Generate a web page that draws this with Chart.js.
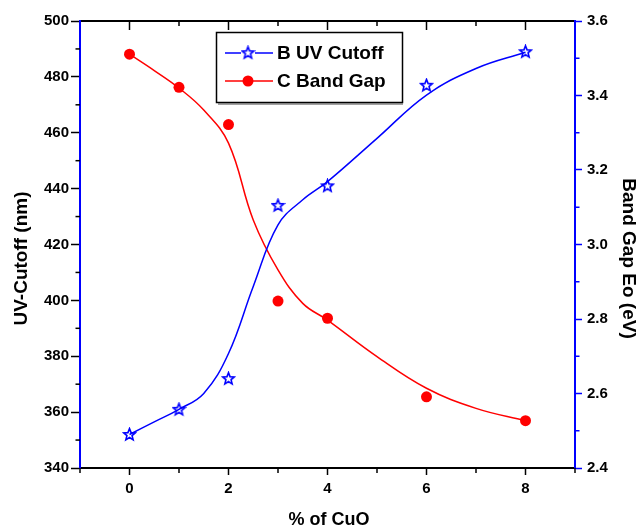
<!DOCTYPE html>
<html><head><meta charset="utf-8">
<script src="https://cdn.jsdelivr.net/npm/chart.js@4/dist/chart.umd.min.js"></script>
<style>html,body{margin:0;padding:0;background:#fff;} canvas{display:block;}</style>
</head><body>
<canvas id="c" width="637" height="531"></canvas>
<script>
// measured points
const cuoPercent = [0, 1, 2, 3, 4, 6, 8];
const uvCutoff = [352, 361, 372, 434, 441, 477, 489];
const bandGap = [3.511, 3.422, 3.322, 2.848, 2.802, 2.591, 2.527];
// fitted curves, values
const curveX = [0, 0.5, 1, 1.5, 2, 2.5, 3, 3.5, 4, 5, 6, 7, 8];
const uvCurve = [352, 356.5, 361, 366.7, 381, 405, 427, 436, 442.5, 458, 473.5, 483, 488.8];
const gapCurve = [3.511, 3.467, 3.42, 3.361, 3.272, 3.066, 2.932, 2.842, 2.797, 2.699, 2.614, 2.56, 2.527];
// ticks
const xTicks = [0, 2, 4, 6, 8];
const xMinorTicks = [-1, 1, 3, 5, 7, 9];
const uvTicks = [340, 360, 380, 400, 420, 440, 460, 480, 500];
const uvMinorTicks = [350, 370, 390, 410, 430, 450, 470, 490];
const gapTicks = [2.4, 2.6, 2.8, 3.0, 3.2, 3.4, 3.6];
const gapMinorTicks = [2.5, 2.7, 2.9, 3.1, 3.3, 3.5];
const seriesNames = ['B UV Cutoff', 'C Band Gap'];
const axisTitles = {x: '% of CuO', y: 'UV-Cutoff (nm)', y1: 'Band Gap Eo (eV)'};

const BLUE = '#0000ff', RED = '#ff0000';
const FONT = "'Liberation Sans', Arial, sans-serif";

function makeStar(color) {
  const c = document.createElement('canvas');
  c.width = 15; c.height = 15;
  const g = c.getContext('2d');
  g.strokeStyle = color; g.lineWidth = 1.6;
  g.beginPath();
  for (let i = 0; i < 10; i++) {
    const r = i % 2 === 0 ? 6.2 : 2.7;
    const a = -Math.PI / 2 + i * Math.PI / 5;
    const px = 7.5 + r * Math.cos(a), py = 7.8 + r * Math.sin(a);
    if (i === 0) g.moveTo(px, py); else g.lineTo(px, py);
  }
  g.closePath(); g.stroke();
  return c;
}
const starImg = makeStar(BLUE);

const pts = (xs, ys) => xs.map((x, i) => ({x: x, y: ys[i]}));

const decorPlugin = {
  id: 'decor',
  afterDraw(chart) {
    const ctx = chart.ctx, a = chart.chartArea;
    const sx = chart.scales.x, sy = chart.scales.y, sy1 = chart.scales.y1;
    ctx.save();
    ctx.lineWidth = 1.5;
    ctx.strokeStyle = '#000';
    uvMinorTicks.forEach(v => { const p = sy.getPixelForValue(v); ctx.beginPath(); ctx.moveTo(a.left, p); ctx.lineTo(a.left - 4.5, p); ctx.stroke(); });
    xMinorTicks.forEach(v => { const p = sx.getPixelForValue(v); ctx.beginPath(); ctx.moveTo(p, a.bottom); ctx.lineTo(p, a.bottom + 5); ctx.stroke(); });
    xTicks.forEach(v => { const p = sx.getPixelForValue(v); ctx.beginPath(); ctx.moveTo(p, a.top); ctx.lineTo(p, a.top + 9); ctx.stroke(); });
    xMinorTicks.filter(v => v > -1 && v < 9).forEach(v => { const p = sx.getPixelForValue(v); ctx.beginPath(); ctx.moveTo(p, a.top); ctx.lineTo(p, a.top + 5); ctx.stroke(); });
    ctx.strokeStyle = BLUE;
    gapMinorTicks.forEach(v => { const p = sy1.getPixelForValue(v); ctx.beginPath(); ctx.moveTo(a.right, p); ctx.lineTo(a.right + 4.5, p); ctx.stroke(); });

    ctx.fillStyle = '#000';
    ctx.textAlign = 'center'; ctx.textBaseline = 'middle';
    ctx.font = 'bold 19px ' + FONT;
    ctx.save(); ctx.translate(22, 258.5); ctx.rotate(-Math.PI / 2); ctx.fillText(axisTitles.y, 0, 0); ctx.restore();
    ctx.save(); ctx.translate(628, 258.5); ctx.rotate(Math.PI / 2); ctx.fillText(axisTitles.y1, 0, 0); ctx.restore();
    ctx.font = 'bold 18px ' + FONT;
    ctx.fillText(axisTitles.x, (a.left + a.right) / 2 + 1.5, 520);

    const lx = 216, ly = 32, lw = 186, lh = 70;
    ctx.fillStyle = '#fff'; ctx.fillRect(lx, ly, lw, lh);
    ctx.strokeStyle = '#000'; ctx.lineWidth = 1.5;
    ctx.strokeRect(lx + 0.5, ly + 0.5, lw, lh);
    ctx.strokeStyle = '#444'; ctx.lineWidth = 1;
    ctx.beginPath(); ctx.moveTo(lx + 2, ly + lh + 2); ctx.lineTo(lx + lw + 1, ly + lh + 2); ctx.stroke();
    const rows = [{y: 53, c: BLUE, name: seriesNames[0], star: true}, {y: 81, c: RED, name: seriesNames[1], star: false}];
    rows.forEach(r => {
      ctx.strokeStyle = r.c; ctx.lineWidth = 1.5;
      ctx.beginPath(); ctx.moveTo(225, r.y); ctx.lineTo(273, r.y); ctx.stroke();
      if (r.star) {
        ctx.fillStyle = '#fff'; ctx.fillRect(241, r.y - 7, 14, 14);
        ctx.drawImage(starImg, 248 - 7.5, r.y - 7.8);
      } else {
        ctx.fillStyle = r.c; ctx.beginPath(); ctx.arc(248, r.y, 5.5, 0, Math.PI * 2); ctx.fill();
      }
      ctx.fillStyle = '#000'; ctx.font = 'bold 19px ' + FONT;
      ctx.textAlign = 'left'; ctx.textBaseline = 'middle';
      ctx.fillText(r.name, 277, r.y + 1);
    });
    ctx.restore();
  }
};

new Chart(document.getElementById('c'), {
  type: 'line',
  data: {
    datasets: [
      {label: seriesNames[0] + ' fit', data: pts(curveX, uvCurve), yAxisID: 'y', borderColor: BLUE, borderWidth: 1.5,
       pointRadius: 0, tension: 0.4, fill: false},
      {label: seriesNames[0], data: pts(cuoPercent, uvCutoff), yAxisID: 'y', showLine: false,
       pointStyle: starImg, pointRadius: 7, borderColor: BLUE, backgroundColor: BLUE},
      {label: seriesNames[1] + ' fit', data: pts(curveX, gapCurve), yAxisID: 'y1', borderColor: RED, borderWidth: 1.5,
       pointRadius: 0, tension: 0.4, fill: false},
      {label: seriesNames[1], data: pts(cuoPercent, bandGap), yAxisID: 'y1', showLine: false,
       pointStyle: 'circle', pointRadius: 5.5, borderWidth: 0, borderColor: RED, backgroundColor: RED}
    ]
  },
  options: {
    responsive: false, animation: false, devicePixelRatio: 1,
    layout: {padding: 0},
    plugins: {legend: {display: false}, tooltip: {enabled: false}},
    scales: {
      x: {
        type: 'linear', position: 'bottom', min: -1, max: 9,
        afterBuildTicks: s => { s.ticks = xTicks.map(v => ({value: v})); },
        afterFit: s => { s.height = 63; },
        ticks: {font: {family: FONT, size: 15, weight: 'bold'}, color: '#000', padding: 5, maxRotation: 0},
        grid: {display: true, drawOnChartArea: false, drawTicks: true, tickLength: 7, tickColor: '#000', tickWidth: 1.5},
        border: {display: true, color: '#000', width: 2}
      },
      xTop: {
        type: 'linear', position: 'top', min: -1, max: 9,
        afterFit: s => { s.height = 21; },
        ticks: {display: false},
        grid: {display: true, drawOnChartArea: false, drawTicks: false},
        border: {display: true, color: '#000', width: 2}
      },
      y: {
        type: 'linear', position: 'left', min: 340, max: 500,
        afterBuildTicks: s => { s.ticks = uvTicks.map(v => ({value: v})); },
        afterFit: s => { s.width = 80; },
        ticks: {font: {family: FONT, size: 15, weight: 'bold'}, color: '#000', padding: 2},
        grid: {display: true, drawOnChartArea: false, drawTicks: true, tickLength: 9, tickColor: '#000', tickWidth: 1.5},
        border: {display: true, color: BLUE, width: 2}
      },
      y1: {
        type: 'linear', position: 'right', min: 2.4, max: 3.6,
        afterBuildTicks: s => { s.ticks = gapTicks.map(v => ({value: v})); },
        afterFit: s => { s.width = 62; },
        ticks: {font: {family: FONT, size: 15, weight: 'bold'}, color: '#000', padding: 5,
                callback: v => Number(v).toFixed(1)},
        grid: {display: true, drawOnChartArea: false, drawTicks: true, tickLength: 7, tickColor: BLUE, tickWidth: 1.5},
        border: {display: true, color: BLUE, width: 2}
      }
    }
  },
  plugins: [decorPlugin]
});
</script>
</body></html>
